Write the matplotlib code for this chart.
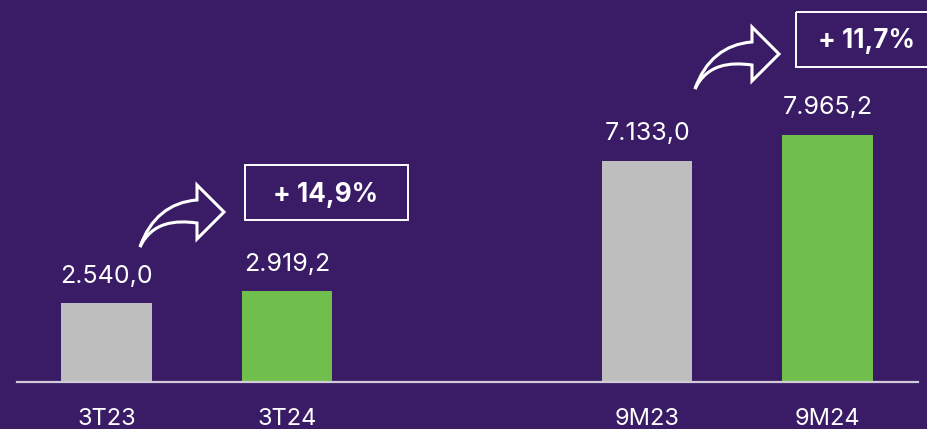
import matplotlib
matplotlib.use('Agg')
import matplotlib.pyplot as plt
from matplotlib.path import Path
from matplotlib.patches import PathPatch, Rectangle

plt.rcParams['font.family'] = ['Inter', 'DejaVu Sans']

BG = '#3A1B66'
GREY = '#BEBEBE'
GREEN = '#70BF4C'
WHITE = '#FFFFFF'

# data
categories = ['3T23', '3T24', '9M23', '9M24']
positions = [0, 1, 3, 4]
values = [2540.0, 2919.2, 7133.0, 7965.2]
value_labels = ['2.540,0', '2.919,2', '7.133,0', '7.965,2']
bar_colors = [GREY, GREEN, GREY, GREEN]
growth_labels = ['+ 14,9%', '+ 11,7%']

fig = plt.figure(figsize=(9.27, 4.29), dpi=100, facecolor=BG)

# bars axes, baseline at y=382 px
ax = fig.add_axes([16.5 / 927, (429 - 382) / 429, (917.5 - 16.5) / 927, 382 / 429])
ax.set_facecolor('none')
ax.bar(positions, values, width=0.502, color=bar_colors, linewidth=0)
ax.set_xlim(-0.5, 4.5)
ax.set_ylim(0, 382 * 32.25)
for side in ['top', 'left', 'right']:
    ax.spines[side].set_visible(False)
ax.spines['bottom'].set_color('#D0CCD8')
ax.spines['bottom'].set_linewidth(1.6)
ax.set_yticks([])
ax.set_xticks(positions)
ax.set_xticklabels(categories, fontsize=17, color=WHITE)
ax.tick_params(axis='x', length=0, pad=19)

for p, v, lab in zip(positions, values, value_labels):
    ax.annotate(lab, (p, v), xytext=(0, 19.5), textcoords='offset points',
                ha='center', va='center', fontsize=18, color=WHITE)

# overlay in pixel coordinates for the arrows and boxes
over = fig.add_axes([0, 0, 1, 1])
over.set_xlim(0, 927)
over.set_ylim(429, 0)
over.axis('off')
over.patch.set_alpha(0)


def curved_arrow(dx, dy):
    verts = [(140, 247), (150, 218), (170, 202), (197, 200),
             (197, 185), (224, 212), (197, 239), (197, 223),
             (175, 220), (152, 222), (140, 247)]
    codes = [Path.MOVETO, Path.CURVE4, Path.CURVE4, Path.CURVE4,
             Path.LINETO, Path.LINETO, Path.LINETO, Path.LINETO,
             Path.CURVE4, Path.CURVE4, Path.CURVE4]
    verts = [(x + dx, y + dy) for x, y in verts]
    over.add_patch(PathPatch(Path(verts, codes), facecolor='none', edgecolor=WHITE,
                             linewidth=2.2, joinstyle='miter'))


curved_arrow(0, 0)
curved_arrow(555, -158)

over.add_patch(Rectangle((245, 165), 163, 55, facecolor='none', edgecolor=WHITE, linewidth=1.4))
over.add_patch(Rectangle((796, 12), 140, 55, facecolor='none', edgecolor=WHITE, linewidth=1.4))
over.text(326, 195, growth_labels[0], ha='center', va='center', fontsize=18.8,
          fontweight='bold', color=WHITE)
over.text(867, 41, growth_labels[1], ha='center', va='center', fontsize=18.8,
          fontweight='bold', color=WHITE)

fig.savefig('out.png', dpi=100)
